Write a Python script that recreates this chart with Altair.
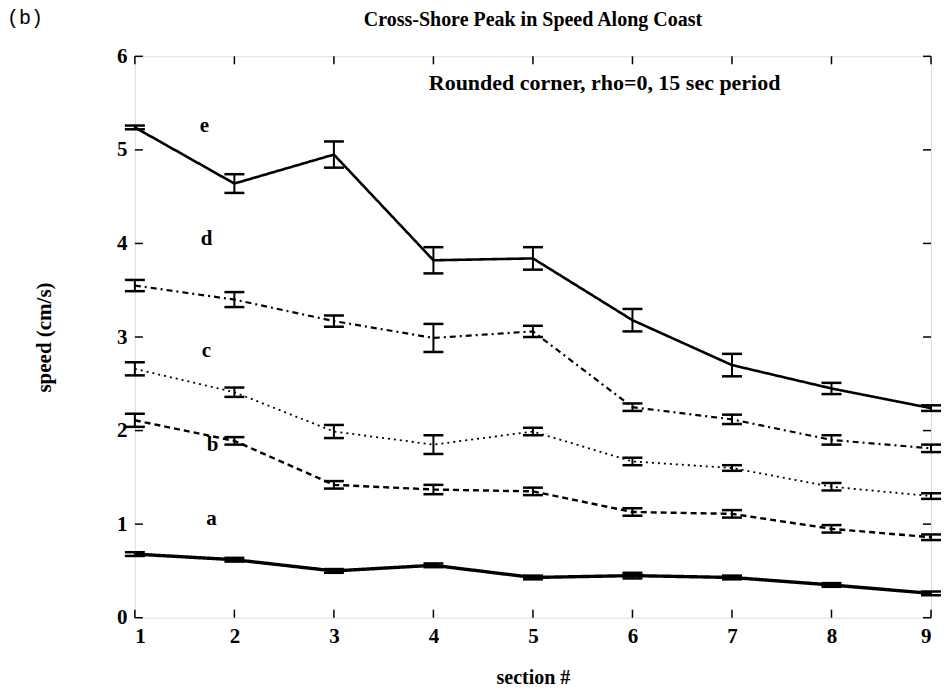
import altair as alt
import pandas as pd

sections = [1, 2, 3, 4, 5, 6, 7, 8, 9]

e_vals = [5.24, 4.64, 4.95, 3.82, 3.84, 3.18, 2.70, 2.45, 2.24]
e_err = [0.02, 0.10, 0.14, 0.14, 0.12, 0.12, 0.12, 0.06, 0.03]
d_vals = [3.55, 3.40, 3.17, 2.99, 3.06, 2.25, 2.12, 1.90, 1.81]
d_err = [0.06, 0.08, 0.06, 0.15, 0.06, 0.04, 0.05, 0.05, 0.04]
c_vals = [2.66, 2.41, 1.99, 1.85, 1.99, 1.67, 1.60, 1.40, 1.30]
c_err = [0.07, 0.05, 0.07, 0.10, 0.04, 0.04, 0.03, 0.04, 0.03]
b_vals = [2.11, 1.89, 1.42, 1.37, 1.35, 1.13, 1.11, 0.95, 0.86]
b_err = [0.07, 0.04, 0.04, 0.05, 0.04, 0.04, 0.04, 0.04, 0.03]
a_vals = [0.68, 0.62, 0.50, 0.56, 0.43, 0.45, 0.43, 0.35, 0.26]
a_err = [0.02, 0.02, 0.02, 0.02, 0.02, 0.03, 0.02, 0.02, 0.02]

label_text = ["e", "d", "c", "b", "a"]
label_x = [1.70, 1.72, 1.72, 1.78, 1.77]
label_y = [5.25, 4.05, 2.85, 1.85, 1.05]

x_ticks = [1, 2, 3, 4, 5, 6, 7, 8, 9]
y_ticks = [0, 1, 2, 3, 4, 5, 6]

title_text = "Cross-Shore Peak in Speed Along Coast"
annotation_text = "Rounded corner, rho=0, 15 sec period"

W, H = 797, 562
SERIF = "Liberation Serif"

styles = {
    "e": dict(strokeWidth=2.6, strokeDash=[1, 0]),
    "d": dict(strokeWidth=2.2, strokeDash=[6, 4, 2, 4]),
    "c": dict(strokeWidth=1.8, strokeDash=[2, 4]),
    "b": dict(strokeWidth=2.4, strokeDash=[6, 4]),
    "a": dict(strokeWidth=3.4, strokeDash=[1, 0]),
}
series = {
    "e": (e_vals, e_err),
    "d": (d_vals, d_err),
    "c": (c_vals, c_err),
    "b": (b_vals, b_err),
    "a": (a_vals, a_err),
}

xs = alt.Scale(domain=[1, 9], nice=False)
ys = alt.Scale(domain=[0, 6], nice=False)

x_enc = alt.X("section:Q", scale=xs, title="section #",
              axis=alt.Axis(values=x_ticks, format="d", ticks=False, domain=False, grid=False,
                            labelFont=SERIF, labelFontWeight="bold", labelFontSize=21,
                            labelColor="black", labelPadding=8,
                            titleFont=SERIF, titleFontWeight="bold", titleFontSize=20,
                            titleColor="black", titlePadding=21))
y_enc = alt.Y("speed:Q", scale=ys, title="speed (cm/s)",
              axis=alt.Axis(values=y_ticks, format="d", ticks=False, domain=False, grid=False,
                            labelFont=SERIF, labelFontWeight="bold", labelFontSize=21,
                            labelColor="black", labelPadding=8,
                            titleFont=SERIF, titleFontWeight="bold", titleFontSize=21,
                            titleColor="black", titlePadding=62))

layers = []
for name, (vals, errs) in series.items():
    df = pd.DataFrame({
        "section": sections,
        "speed": vals,
        "lo": [v - e for v, e in zip(vals, errs)],
        "hi": [v + e for v, e in zip(vals, errs)],
    })
    base = alt.Chart(df)
    layers.append(base.mark_line(color="black", **styles[name]).encode(x=x_enc, y=y_enc))
    layers.append(base.mark_rule(color="black", strokeWidth=2).encode(
        x=alt.X("section:Q", scale=xs), y=alt.Y("lo:Q", scale=ys), y2="hi:Q"))
    for col in ["lo", "hi"]:
        layers.append(base.mark_rule(color="black", strokeWidth=2.5, xOffset=-10, x2Offset=10).encode(
            x=alt.X("section:Q", scale=xs), x2="section:Q", y=alt.Y(f"{col}:Q", scale=ys)))

lab_df = pd.DataFrame({"section": label_x, "speed": label_y, "t": label_text})
layers.append(alt.Chart(lab_df).mark_text(font=SERIF, fontWeight="bold", fontSize=21,
                                          color="black").encode(
    x=alt.X("section:Q", scale=xs), y=alt.Y("speed:Q", scale=ys), text="t:N"))

ann_df = pd.DataFrame({"section": [5.72], "speed": [5.72], "t": [annotation_text]})
layers.append(alt.Chart(ann_df).mark_text(font=SERIF, fontWeight="bold", fontSize=22,
                                          color="black").encode(
    x=alt.X("section:Q", scale=xs), y=alt.Y("speed:Q", scale=ys), text="t:N"))

# inside tick marks on all four sides
xt = pd.DataFrame({"section": x_ticks})
yt = pd.DataFrame({"speed": y_ticks})
layers.append(alt.Chart(xt).mark_rule(color="black", strokeWidth=1.5).encode(
    x=alt.X("section:Q", scale=xs), y=alt.value(H), y2=alt.value(H - 8)))
layers.append(alt.Chart(xt).mark_rule(color="black", strokeWidth=1.5).encode(
    x=alt.X("section:Q", scale=xs), y=alt.value(0), y2=alt.value(8)))
layers.append(alt.Chart(yt).mark_rule(color="black", strokeWidth=1.5).encode(
    y=alt.Y("speed:Q", scale=ys), x=alt.value(0), x2=alt.value(8)))
layers.append(alt.Chart(yt).mark_rule(color="black", strokeWidth=1.5).encode(
    y=alt.Y("speed:Q", scale=ys), x=alt.value(W), x2=alt.value(W - 8)))

# title and panel tag
title_df = pd.DataFrame({"t": [title_text]})
layers.append(alt.Chart(title_df).mark_text(font=SERIF, fontWeight="bold", fontSize=20,
                                            color="black", baseline="middle").encode(
    x=alt.value(W / 2), y=alt.value(-36), text="t:N"))
tag_df = pd.DataFrame({"t": ["(b)"]})
layers.append(alt.Chart(tag_df).mark_text(font="Liberation Mono", fontSize=20, color="black",
                                          align="left", baseline="middle").encode(
    x=alt.value(-128), y=alt.value(-38), text="t:N"))

chart = alt.layer(*layers).properties(
    width=W, height=H,
    autosize=alt.AutoSizeParams(type="none"),
    padding={"left": 127, "top": 48, "right": 10, "bottom": 70},
).configure_view(stroke="black", strokeWidth=2.5).configure(background="white")

chart.save("out.html", embed_options={"renderer": "svg", "actions": False})
